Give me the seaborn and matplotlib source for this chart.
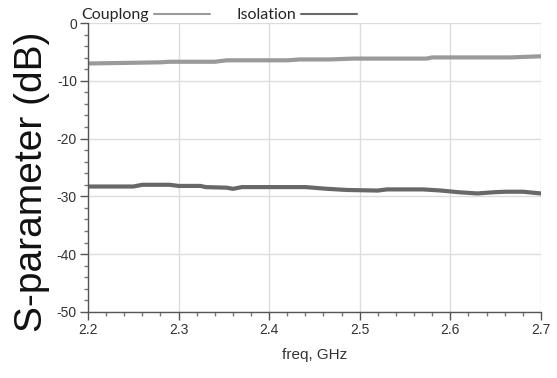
import pandas as pd
import matplotlib.pyplot as plt
import seaborn as sns
from matplotlib.ticker import MultipleLocator

# Couplong curve
coup_freq = [2.20, 2.28, 2.29, 2.34, 2.353, 2.42, 2.434, 2.467, 2.493, 2.574, 2.58, 2.666, 2.70]
coup_db = [-7.0, -6.8, -6.7, -6.7, -6.45, -6.45, -6.3, -6.3, -6.15, -6.15, -5.95, -5.95, -5.75]

# Isolation curve
iso_freq = [2.20, 2.25, 2.26, 2.29, 2.30, 2.324, 2.33, 2.353, 2.36, 2.37, 2.44, 2.464, 2.486,
            2.52, 2.53, 2.57, 2.59, 2.61, 2.63, 2.647, 2.662, 2.68, 2.70]
iso_db = [-28.3, -28.3, -28.0, -28.0, -28.2, -28.2, -28.4, -28.5, -28.7, -28.4, -28.4, -28.7, -28.9,
          -29.0, -28.8, -28.8, -29.0, -29.3, -29.5, -29.3, -29.2, -29.2, -29.5]

df = pd.concat([
    pd.DataFrame({'freq': coup_freq, 'db': coup_db, 'trace': 'Couplong'}),
    pd.DataFrame({'freq': iso_freq, 'db': iso_db, 'trace': 'Isolation'}),
])

sns.set_style('white')
plt.rcParams['font.family'] = ['Liberation Sans', 'DejaVu Sans']
plt.rcParams['axes.unicode_minus'] = False

fig = plt.figure(figsize=(5.57, 3.78), dpi=100)
ax = fig.add_axes([0.158, 0.175, 0.813, 0.764])

sns.lineplot(data=df, x='freq', y='db', hue='trace',
             palette={'Couplong': '#9a9a9a', 'Isolation': '#686868'},
             linewidth=3, ax=ax, sort=False)

ax.set_xlim(2.2, 2.7)
ax.set_ylim(-50, 0)
ax.xaxis.set_major_locator(MultipleLocator(0.1))
ax.xaxis.set_minor_locator(MultipleLocator(0.02))
ax.yaxis.set_major_locator(MultipleLocator(10))
ax.yaxis.set_minor_locator(MultipleLocator(2))
ax.set_xticklabels(['%.1f' % v for v in ax.get_xticks()])
ax.grid(True, which='major', color='#dcdcdc', linewidth=1)

for s in ['top', 'right']:
    ax.spines[s].set_visible(False)
for s in ['left', 'bottom']:
    ax.spines[s].set_color('#555555')
    ax.spines[s].set_linewidth(1)
ax.tick_params(which='major', direction='out', length=6, width=1, color='#555555',
               labelsize=10, labelcolor='#333333', pad=2, left=True, bottom=True)
ax.tick_params(which='minor', direction='out', length=3, width=1, color='#777777',
               left=True, bottom=True)

ax.set_xlabel('freq, GHz', fontsize=11, color='#333333', labelpad=8)
ax.set_ylabel('S-parameter (dB)', fontsize=28, color='#111111', labelpad=0)
ax.yaxis.set_label_coords(-0.085, 0.45)

leg = ax.legend(loc='lower left', bbox_to_anchor=(-0.015, 1.003), ncol=2, frameon=False,
                markerfirst=False, handlelength=3.5, handletextpad=0.3, columnspacing=1.7,
                borderpad=0, borderaxespad=0,
                prop={'family': ['Lato', 'DejaVu Sans'], 'size': 11.5})
for line in leg.get_lines():
    line.set_linewidth(1.5)

fig.savefig('out.png', dpi=100)
